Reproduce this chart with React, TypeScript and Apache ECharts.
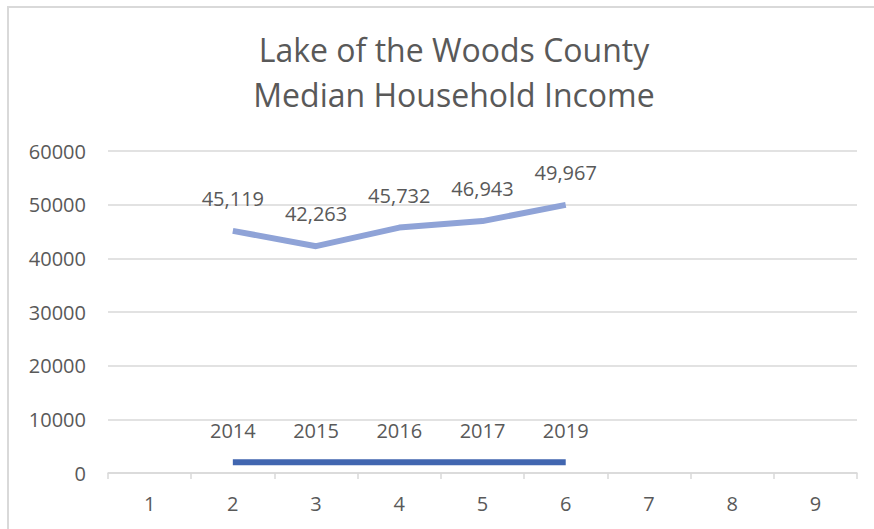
import React, { useEffect, useRef } from "react";
import * as echarts from "echarts";

const categories = ["1", "2", "3", "4", "5", "6", "7", "8", "9"];
const yearValues = [null, 2014, 2015, 2016, 2017, 2019, null, null, null];
const incomeValues = [null, 45119, 42263, 45732, 46943, 49967, null, null, null];
const titleLines = ["Lake of the Woods County", "Median Household Income"];
const yTicks = { min: 0, max: 60000, interval: 10000 };

const FONT = "'Open Sans', 'Noto Sans', sans-serif";
const TEXT = "#595959";
const GRID = "#d9d9d9";

export default function App() {
  const ref = useRef<HTMLDivElement>(null);
  useEffect(() => {
    if (!ref.current) return;
    const chart = echarts.init(ref.current, undefined, { renderer: "svg" });
    chart.setOption({
      animation: false,
      backgroundColor: "#ffffff",
      textStyle: { fontFamily: FONT },
      title: {
        text: titleLines.join("\n"),
        left: 449,
        top: 22,
        textAlign: "center",
        textStyle: {
          fontFamily: FONT,
          fontSize: 32,
          fontWeight: "normal",
          color: TEXT,
          lineHeight: 45,
        },
      },
      graphic: [
        {
          type: "rect",
          shape: { x: 8, y: 7, width: 900, height: 600 },
          style: { fill: "none", stroke: GRID, lineWidth: 2 },
          silent: true,
        },
      ],
      grid: { left: 108, right: 17, top: 151, bottom: 56, containLabel: false },
      xAxis: {
        type: "category",
        data: categories,
        boundaryGap: true,
        axisLine: { show: true, lineStyle: { color: GRID, width: 1.5 } },
        axisTick: { show: true, length: 6, lineStyle: { color: GRID, width: 1.5 } },
        axisLabel: { color: TEXT, fontSize: 20, fontFamily: FONT, margin: 20 },
        splitLine: { show: false },
      },
      yAxis: {
        type: "value",
        min: yTicks.min,
        max: yTicks.max,
        interval: yTicks.interval,
        axisLine: { show: false },
        axisTick: { show: false },
        axisLabel: {
          color: TEXT,
          fontSize: 20,
          fontFamily: FONT,
          margin: 22,
          formatter: (v: number) => String(v),
        },
        splitLine: { show: true, lineStyle: { color: GRID, width: 1.5 } },
      },
      series: [
        {
          name: "Year",
          type: "line",
          data: yearValues,
          symbol: "circle",
          symbolSize: 1,
          showSymbol: true,
          itemStyle: { opacity: 0, color: "#4166B0" },
          lineStyle: { color: "#4166B0", width: 6 },
          label: {
            show: true,
            position: "top",
            distance: 21,
            color: TEXT,
            fontSize: 20,
            fontFamily: FONT,
            opacity: 1,
          },
        },
        {
          name: "Income",
          type: "line",
          data: incomeValues,
          symbol: "circle",
          symbolSize: 1,
          showSymbol: true,
          itemStyle: { opacity: 0, color: "#8FA3D7" },
          lineStyle: { color: "#8FA3D7", width: 6 },
          label: {
            show: true,
            position: "top",
            distance: 22,
            color: TEXT,
            fontSize: 20,
            fontFamily: FONT,
            opacity: 1,
            formatter: (p: any) => Number(p.value).toLocaleString("en-US"),
          },
        },
      ],
    });
    return () => chart.dispose();
  }, []);
  return (
    <div
      ref={ref}
      style={{ position: "fixed", left: 0, top: 0, width: 874, height: 529 }}
    />
  );
}
